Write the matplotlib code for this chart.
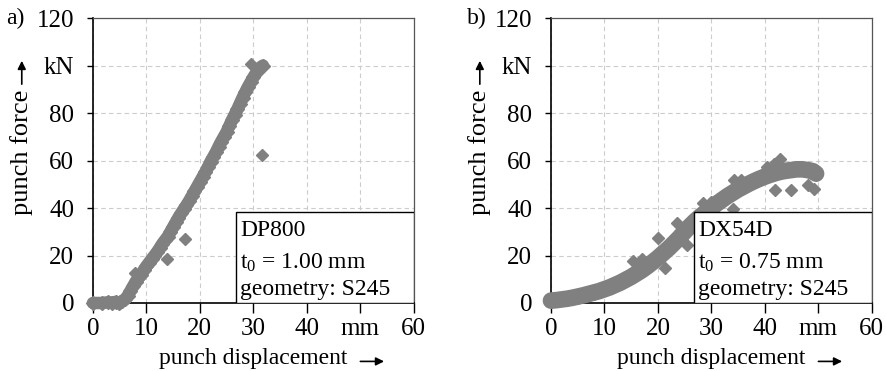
import matplotlib.pyplot as plt
from matplotlib.patches import Rectangle

plt.rcParams['font.family'] = ['Liberation Serif', 'DejaVu Serif']
plt.rcParams['mathtext.fontset'] = 'custom'
plt.rcParams['mathtext.rm'] = 'Liberation Serif'
plt.rcParams['mathtext.it'] = 'Liberation Serif:italic'

# a) DP800, t0 = 1.00 mm
disp_a = [0.0, 1.7, 2.8, 3.6, 4.3, 4.8,
          5.0, 5.5, 6.0, 6.5, 7.0, 7.5, 8.0, 8.5, 9.0, 9.5, 10.0, 10.5, 11.0, 11.5,
          12.0, 12.5, 13.0, 13.5, 14.0, 14.5, 15.0, 15.5, 16.0, 16.5, 17.0, 17.5,
          18.0, 18.5, 19.0, 19.5, 20.0, 20.5, 21.0, 21.5, 22.0, 22.5, 23.0, 23.5,
          24.0, 24.5, 25.0, 25.5, 26.0, 26.5, 27.0, 27.5, 28.0, 28.5, 29.0, 29.5,
          30.0, 30.5, 31.0, 31.5, 31.8]
force_a = [0.0, 0.0, 0.3, 0.2, 0.5, 0.0,
           0.3, 0.8, 1.5, 3.0, 5.0, 7.0, 9.0, 10.5, 12.0, 13.8, 15.5, 17.0, 18.5, 20.0,
           21.5, 23.2, 25.0, 26.5, 28.0, 30.0, 32.0, 34.0, 36.0, 37.8, 39.5, 41.2,
           43.0, 45.0, 47.0, 49.0, 51.0, 53.0, 55.0, 57.2, 59.5, 61.5, 63.5, 65.8,
           68.0, 70.0, 72.0, 74.5, 77.0, 79.2, 81.5, 84.0, 86.5, 88.8, 91.0, 93.0,
           95.0, 96.8, 98.5, 99.5, 100.0]
disp_a_out = [29.6, 31.7, 17.3, 13.8, 7.8]
force_a_out = [100.5, 62.3, 27.0, 18.5, 12.6]

# b) DX54D, t0 = 0.75 mm
disp_b = [0, 1, 2, 3, 4, 5, 6, 7, 8, 9, 10, 11, 12, 13, 14, 15, 16, 17, 18, 19,
          20, 21, 22, 23, 24, 25, 26, 27, 28, 29, 30, 31, 32, 33, 34, 35, 36, 37,
          38, 39, 40, 41, 42, 43, 44, 45, 46, 47, 48, 49, 49.6]
force_b = [1.0, 1.2, 1.5, 1.8, 2.2, 2.7, 3.2, 3.8, 4.4, 5.0, 5.8, 6.6, 7.6, 8.6,
           9.8, 11.0, 12.4, 13.8, 15.4, 17.2, 19.0, 21.0, 23.0, 25.2, 27.5, 30.0,
           32.4, 34.6, 36.6, 38.3, 40.0, 41.8, 43.4, 45.0, 46.4, 47.8, 49.0, 50.2,
           51.3, 52.3, 53.2, 54.0, 54.7, 55.3, 55.7, 56.0, 56.3, 56.3, 56.0, 55.5,
           54.5]
disp_b_out = [15.3, 17.0, 20.1, 21.4, 23.6, 28.4, 29.9, 34.3, 35.6, 40.5, 41.7,
              42.8, 41.9, 44.9, 48.0, 49.2, 34.1, 25.5]
force_b_out = [17.7, 18.4, 27.4, 14.9, 33.8, 42.3, 42.6, 51.8, 51.7, 57.4, 58.4,
               60.8, 47.5, 47.5, 49.8, 48.0, 39.7, 24.5]

x_ticks = [0, 10, 20, 30, 40, 50, 60]
x_labels = ['0', '10', '20', '30', '40', 'mm', '60']
y_ticks = [0, 20, 40, 60, 80, 100, 120]
y_labels = ['0', '20', '40', '60', '80', 'kN', '120']

panels = [
    ('a)', disp_a, force_a, disp_a_out, force_a_out, 'DP800', '1.00', 9, 0.1048, 6),
    ('b)', disp_b, force_b, disp_b_out, force_b_out, 'DX54D', '0.75', 12, 0.6212, 467),
]

grey = '#808080'
fs = 17

fig = plt.figure(figsize=(8.87, 3.71), dpi=100)

for tag, xs, ys, xo, yo, mat, t0, band, left, tagx in panels:
    ax = fig.add_axes([left, 0.1833, 0.3615, 0.768])

    ax.plot(xs, ys, color=grey, lw=band, solid_capstyle='round', zorder=3, clip_on=False)
    ax.plot(xs, ys, ls='none', marker='D', ms=7, color=grey, zorder=3, clip_on=False)
    ax.plot(xo, yo, ls='none', marker='D', ms=6, color=grey, zorder=3, clip_on=False)

    ax.set_xlim(0, 60)
    ax.set_ylim(0, 120)
    ax.set_xticks(x_ticks)
    ax.set_xticklabels(x_labels, fontsize=18)
    ax.set_yticks(y_ticks)
    ax.set_yticklabels(y_labels, fontsize=18)
    ax.tick_params(axis='x', direction='out', length=7, width=1, pad=4)
    ax.tick_params(axis='y', direction='out', length=4.5, width=1, pad=9)

    ax.grid(True, color='#cccccc', ls=(0, (4, 3)), lw=0.8)
    ax.set_axisbelow(True)
    for s in ['left', 'bottom']:
        ax.spines[s].set_color('black')
        ax.spines[s].set_linewidth(1.2)
    for s in ['top', 'right']:
        ax.spines[s].set_color('#555555')
        ax.spines[s].set_linewidth(0.9)

    # info box
    ax.add_patch(Rectangle((0.447, 0.0), 0.553, 0.319, transform=ax.transAxes,
                           facecolor='white', edgecolor='black', lw=1, zorder=5))
    box_lines = [mat, 't$_\\mathrm{0}$ = ' + t0 + ' mm', 'geometry: S245']
    for line, yy in zip(box_lines, [0.235, 0.119, 0.028]):
        ax.text(0.459, yy, line, transform=ax.transAxes, ha='left', va='baseline',
                fontsize=fs, zorder=6)

    # axis labels with arrows
    ax.text(-0.222, 0.53, 'punch force', rotation=90, ha='center', va='center',
            transform=ax.transAxes, fontsize=19)
    ax.annotate('', xy=(-0.222, 0.85), xytext=(-0.222, 0.768), xycoords='axes fraction',
                arrowprops=dict(arrowstyle='-|>', color='black', lw=1.2,
                                mutation_scale=12, shrinkA=0, shrinkB=0))
    ax.text(0.5, -0.195, 'punch displacement', ha='center', va='center',
            transform=ax.transAxes, fontsize=fs)
    ax.annotate('', xy=(0.908, -0.205), xytext=(0.834, -0.205), xycoords='axes fraction',
                arrowprops=dict(arrowstyle='-|>', color='black', lw=1.2,
                                mutation_scale=12, shrinkA=0, shrinkB=0))

    fig.text(tagx / 887, 1 - 18 / 371, tag, ha='left', va='center', fontsize=fs)

fig.savefig('out.png', dpi=100)
